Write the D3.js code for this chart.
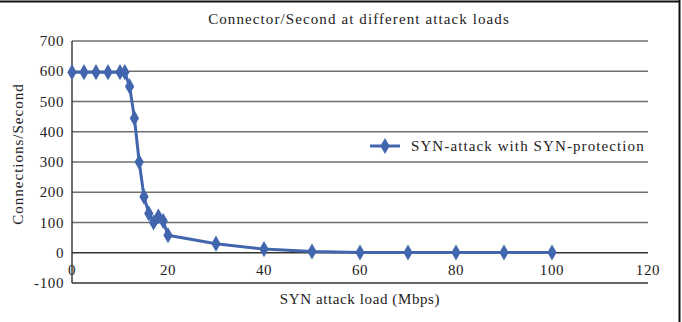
<!DOCTYPE html>
<html>
<head>
<meta charset="utf-8">
<script src="https://cdn.jsdelivr.net/npm/d3@7"></script>
<style>
  body { margin: 0; background: #fff; }
  text { font-family: "Liberation Serif", "Times New Roman", serif; fill: #222; }
</style>
</head>
<body>
<svg id="chart" width="682" height="322"></svg>
<script>
// Chart data
const loads = [0, 2.5, 5, 7.5, 10, 11, 12, 13, 14, 15, 16, 17, 18, 19, 20, 30, 40, 50, 60, 70, 80, 90, 100];
const connections = [597, 597, 597, 597, 597, 597, 550, 445, 300, 185, 130, 100, 120, 105, 58, 30, 12, 4, 1, 1, 1, 1, 1];
const xTicks = [0, 20, 40, 60, 80, 100, 120];
const yTicks = [-100, 0, 100, 200, 300, 400, 500, 600, 700];
const seriesName = "SYN-attack with SYN-protection";

const svg = d3.select("#chart");
const blue = "#4266ae";

// Scales
const x = d3.scaleLinear().domain([0, 120]).range([72, 648]);
const y = d3.scaleLinear().domain([-100, 700]).range([283, 41]);

// Outer frame (top and right edges visible)
svg.append("line").attr("x1", 0).attr("x2", 680).attr("y1", 1.5).attr("y2", 1.5)
    .attr("stroke", "#111").attr("stroke-width", 2);
svg.append("line").attr("x1", 679.5).attr("x2", 679.5).attr("y1", 0).attr("y2", 322)
    .attr("stroke", "#111").attr("stroke-width", 2);

// Title
svg.append("text")
    .attr("x", 359).attr("y", 24)
    .attr("text-anchor", "middle")
    .attr("font-size", 15)
    .attr("letter-spacing", 1.1)
    .text("Connector/Second at different attack loads");

// Gridlines
svg.append("g").selectAll("line")
    .data(yTicks.filter(d => d > -100))
    .join("line")
    .attr("x1", x(0)).attr("x2", x(120))
    .attr("y1", d => y(d)).attr("y2", d => y(d))
    .attr("stroke", d => d === 0 ? "#333" : "#6f6f6f")
    .attr("stroke-width", 1.4);

// Frame lines: left and bottom
svg.append("line").attr("x1", x(0)).attr("x2", x(0)).attr("y1", y(700)).attr("y2", y(-100))
    .attr("stroke", "#333").attr("stroke-width", 1.4);
svg.append("line").attr("x1", x(0)).attr("x2", x(120)).attr("y1", y(-100)).attr("y2", y(-100))
    .attr("stroke", "#333").attr("stroke-width", 1.4);

// Y tick labels
svg.append("g").selectAll("text")
    .data(yTicks)
    .join("text")
    .attr("x", 64)
    .attr("y", d => y(d) + 5)
    .attr("text-anchor", "end")
    .attr("font-size", 15)
    .attr("letter-spacing", 0.6)
    .text(d => d);

// X tick labels (sit between 0 and -100)
svg.append("g").selectAll("text")
    .data(xTicks)
    .join("text")
    .attr("x", d => x(d))
    .attr("y", 275)
    .attr("text-anchor", "middle")
    .attr("font-size", 15)
    .attr("letter-spacing", 0.6)
    .text(d => d);

// Axis titles
svg.append("text")
    .attr("transform", "translate(23,154) rotate(-90)")
    .attr("text-anchor", "middle")
    .attr("font-size", 15)
    .attr("letter-spacing", 1)
    .text("Connections/Second");

svg.append("text")
    .attr("x", 360).attr("y", 304)
    .attr("text-anchor", "middle")
    .attr("font-size", 15)
    .attr("letter-spacing", 0.6)
    .text("SYN attack load (Mbps)");

// Series line
const pts = loads.map((d, i) => [d, connections[i]]);
svg.append("path")
    .datum(pts)
    .attr("fill", "none")
    .attr("stroke", blue)
    .attr("stroke-width", 3)
    .attr("stroke-linejoin", "round")
    .attr("d", d3.line().x(d => x(d[0])).y(d => y(d[1])));

// Diamond markers
const diamond = d3.symbol().type(d3.symbolDiamond).size(75);
svg.append("g").selectAll("path")
    .data(pts)
    .join("path")
    .attr("transform", d => `translate(${x(d[0])},${y(d[1])})`)
    .attr("d", diamond)
    .attr("fill", blue);

// Legend
const lg = svg.append("g").attr("transform", "translate(370,146)");
lg.append("line").attr("x1", 0).attr("x2", 30).attr("y1", 0).attr("y2", 0)
    .attr("stroke", blue).attr("stroke-width", 3);
lg.append("path").attr("transform", "translate(15,0)").attr("d", diamond).attr("fill", blue);
lg.append("text")
    .attr("x", 41).attr("y", 5)
    .attr("font-size", 15)
    .attr("letter-spacing", 1.1)
    .text(seriesName);
</script>
</body>
</html>
